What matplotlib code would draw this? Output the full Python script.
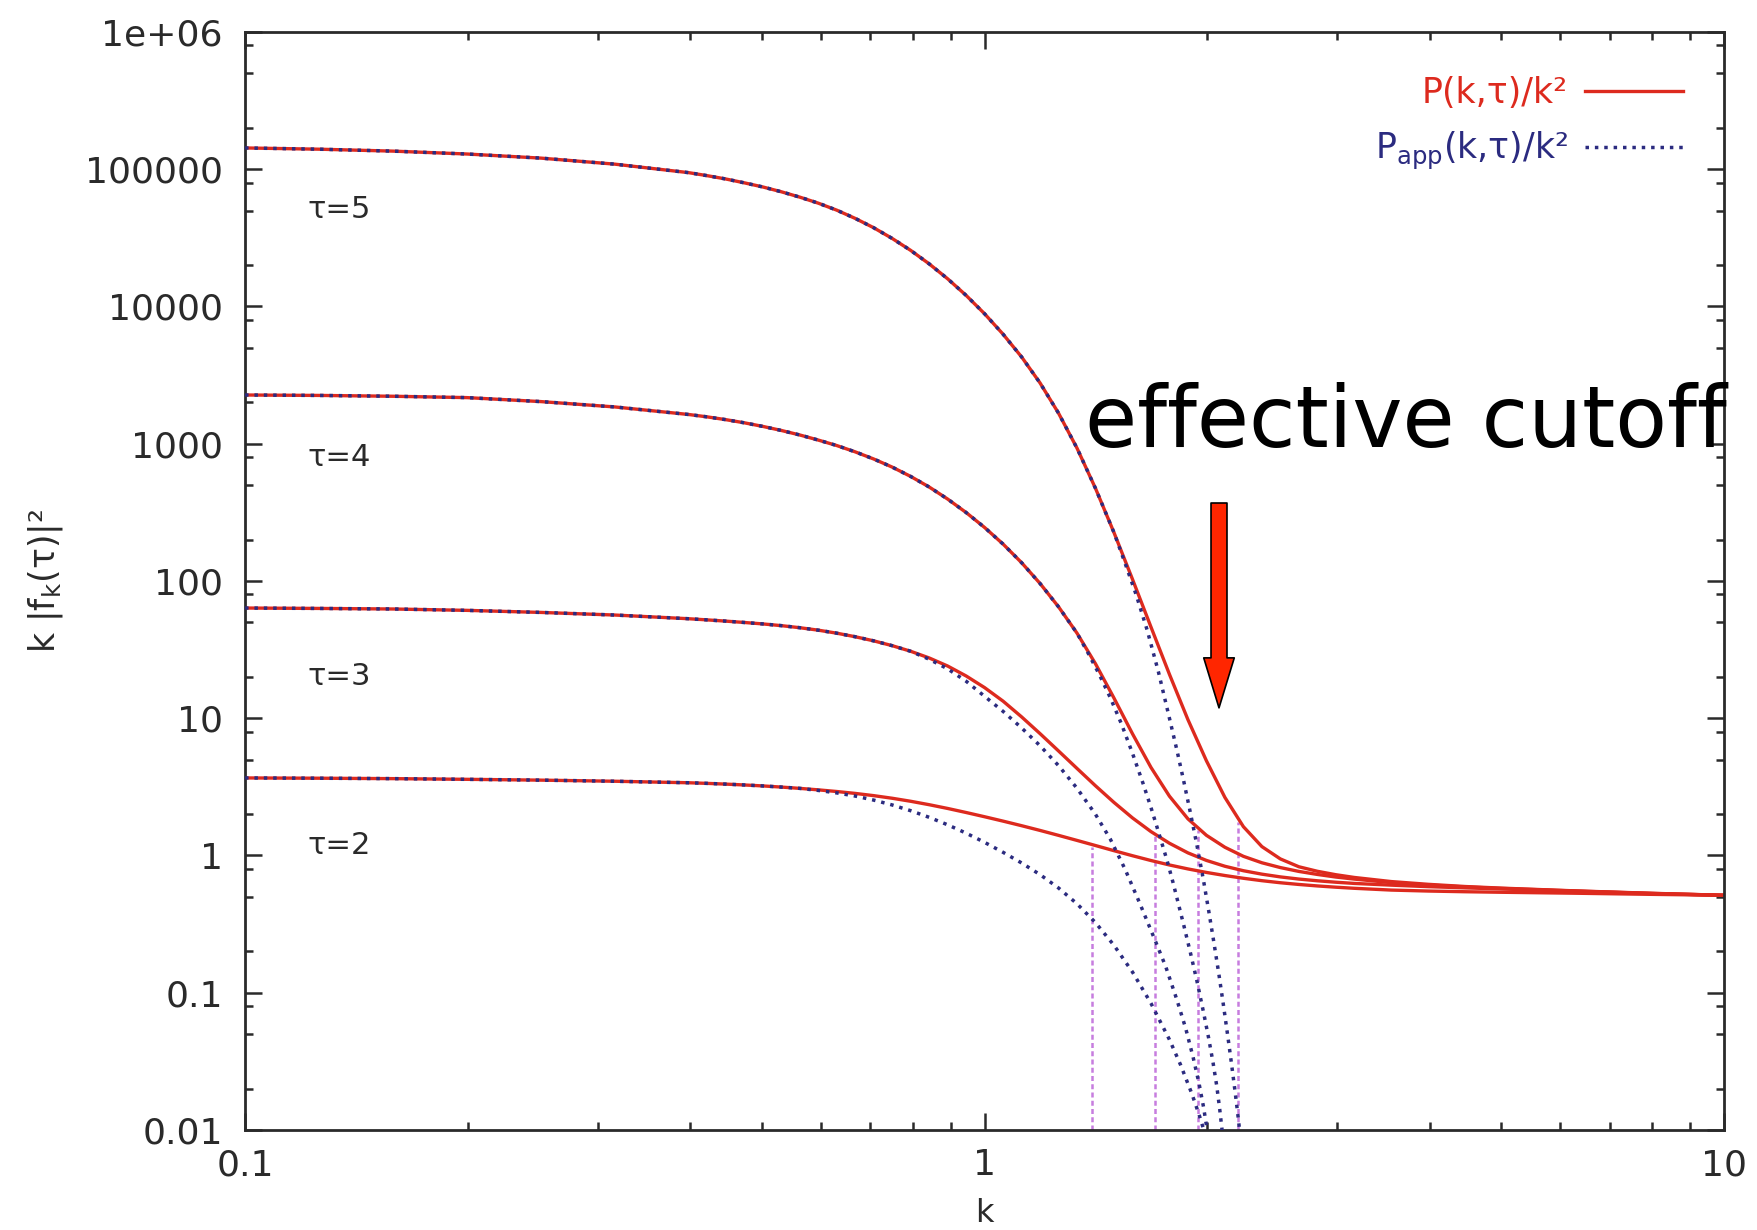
import matplotlib
matplotlib.use("Agg")
import matplotlib.pyplot as plt
from matplotlib.patches import FancyArrowPatch, ArrowStyle
from matplotlib.ticker import LogLocator, NullFormatter

plt.rcParams['font.family'] = ['DejaVu Sans']
plt.rcParams['mathtext.fontset'] = 'dejavusans'

# k values read along the x axis
k_grid = [0.1, 0.1259, 0.1585, 0.1995, 0.2512, 0.3162, 0.3981,
          0.4217, 0.4467, 0.4732, 0.5012, 0.5309, 0.5623, 0.5957, 0.6310, 0.6683, 0.7079,
          0.7499, 0.7943, 0.8414, 0.8913, 0.9441, 1.0, 1.0593, 1.1220, 1.1885, 1.2589,
          1.3335, 1.4125, 1.4962, 1.5849, 1.6788, 1.7783, 1.8836, 1.9953, 2.1135, 2.2387,
          2.3714, 2.5119, 2.6607, 2.8184, 2.9854, 3.1623,
          3.5481, 3.9811, 4.4668, 5.0119, 6.3096, 7.9433, 10.0]

# P(k,tau)/k^2 (solid red)
y_tau5 = [142900, 139960, 135500, 129100, 120500, 108900, 94410,
          89740, 84920, 79620, 74300, 68550, 62660, 56620, 50350, 43850, 37500,
          31330, 25650, 20460, 15920, 12050, 8851, 6281, 4295, 2773, 1671,
          928.9, 473.2, 225.4, 103.0, 46.24, 20.89, 9.772, 4.898, 2.649, 1.622,
          1.161, 0.9441, 0.8279, 0.7674, 0.7244, 0.6918,
          0.6457, 0.6166, 0.5943, 0.5781, 0.5521, 0.5309, 0.5129]
y_tau4 = [2265, 2249, 2218, 2168, 2028, 1854, 1633,
          1569, 1498, 1421, 1338, 1250, 1159, 1064, 970.5, 873.0, 774.5,
          676.1, 578.1, 484.2, 395.4, 315.5, 245.5, 185.8, 136.1, 95.94, 64.86,
          41.69, 24.95, 14.03, 7.709, 4.385, 2.704, 1.849, 1.403, 1.148, 0.9863,
          0.8851, 0.8166, 0.7656, 0.7278, 0.6966, 0.6730,
          0.6339, 0.6095, 0.5902, 0.5754, 0.5508, 0.5297, 0.5129]
y_tau3 = [63.53, 63.10, 62.52, 61.09, 59.02, 56.49, 53.09,
          52.06, 51.00, 49.86, 48.67, 47.29, 45.68, 43.83, 41.67, 39.26, 36.64,
          33.80, 30.77, 27.51, 24.02, 20.33, 16.72, 13.32, 10.24, 7.727, 5.777,
          4.308, 3.220, 2.436, 1.879, 1.493, 1.228, 1.045, 0.9207, 0.8348, 0.7746,
          0.7312, 0.6983, 0.6734, 0.6543, 0.6387, 0.6259,
          0.6081, 0.5929, 0.5808, 0.5702, 0.5483, 0.5284, 0.5129]
y_tau2 = [3.673, 3.656, 3.631, 3.589, 3.540, 3.475, 3.388,
          3.353, 3.312, 3.265, 3.213, 3.152, 3.084, 3.008, 2.926, 2.834, 2.730,
          2.613, 2.484, 2.345, 2.202, 2.057, 1.916, 1.780, 1.649, 1.523, 1.402,
          1.288, 1.182, 1.084, 0.9963, 0.9192, 0.8529, 0.7982, 0.7526, 0.7146, 0.6824,
          0.6554, 0.6331, 0.6152, 0.6001, 0.5875, 0.5768,
          0.5598, 0.5508, 0.5445, 0.5395, 0.5309, 0.5212, 0.5129]

# P_app(k,tau)/k^2 (dotted blue): same as exact at small k, then these tails
k_app5_tail = [1.5488, 1.6032, 1.6596, 1.7179, 1.7783, 1.8197, 1.8578, 1.8967, 1.9364,
               1.9770, 2.0091, 2.0417, 2.0749, 2.1038, 2.1330, 2.1577, 2.1827, 2.2029, 2.2182]
y_app5_tail = [134.9, 79.43, 43.65, 21.88, 10.0, 5.888, 3.548, 2.089, 1.202,
               0.6607, 0.3981, 0.2344, 0.1349, 0.08128, 0.04786, 0.03020, 0.01862, 0.01230, 0.00871]
k_app4_tail = [1.3804, 1.4289, 1.4791, 1.5311, 1.5849, 1.6368, 1.6788, 1.7100, 1.7378, 1.7660,
               1.7989, 1.8281, 1.8578, 1.8967, 1.9364, 1.9770, 2.0091, 2.0370, 2.0606, 2.0797, 2.0989]
y_app4_tail = [29.85, 20.89, 14.13, 9.120, 5.559, 3.388, 2.239, 1.622, 1.216, 0.9120,
               0.6310, 0.4467, 0.3162, 0.1995, 0.1230, 0.07244, 0.04677, 0.03090, 0.02089, 0.01413, 0.00912]
k_app3_tail = [0.8414, 0.8913, 0.9441, 1.0, 1.0593, 1.1220, 1.1885, 1.2589, 1.3335, 1.4125, 1.4791,
               1.5488, 1.6218, 1.6982, 1.7579, 1.8197, 1.8707, 1.9143, 1.9498, 1.9770, 1.9999, 2.0091]
y_app3_tail = [26.92, 22.91, 18.62, 14.45, 11.22, 8.511, 6.310, 4.519, 3.090, 1.995, 1.318,
               0.7943, 0.4467, 0.2455, 0.1549, 0.08913, 0.05495, 0.03388, 0.02188, 0.01479, 0.0100, 0.008511]
k_app2_tail = [0.5957, 0.6310, 0.6683, 0.7079, 0.7499, 0.7943, 0.8414, 0.8913, 0.9441, 1.0, 1.0593,
               1.1220, 1.1885, 1.2589, 1.3335, 1.4125, 1.4962, 1.5849, 1.6788, 1.7783, 1.8408,
               1.9055, 1.9498, 1.9861]
y_app2_tail = [2.980, 2.858, 2.711, 2.534, 2.335, 2.121, 1.898, 1.674, 1.455, 1.247, 1.055,
               0.8828, 0.7259, 0.5799, 0.4449, 0.3243, 0.2217, 0.1416, 0.08382, 0.04552, 0.02987,
               0.01855, 0.01298, 0.009405]

# thin vertical lines under the cutoffs
cut_k = [1.398, 1.701, 1.944, 2.203]
cut_top = [1.15, 1.40, 1.53, 1.75]

tau_names = ["τ=5", "τ=4", "τ=3", "τ=2"]
tau_label_y = [5.05e4, 790, 20.0, 1.19]

xtick_vals = [0.1, 1, 10]
xtick_labels = ["0.1", "1", "10"]
ytick_vals = [0.01, 0.1, 1, 10, 100, 1000, 10000, 100000, 1e6]
ytick_labels = ["0.01", "0.1", "1", "10", "100", "1000", "10000", "100000", "1e+06"]

red = "#dd2a1e"
blue = "#2b2b80"
grey = "#2a2a2a"

fig = plt.figure(figsize=(17.58, 12.30), dpi=100)
ax = fig.add_axes([0.1394, 0.0813, 0.8413, 0.8927])
ax.set_xscale("log")
ax.set_yscale("log")

exact = [y_tau5, y_tau4, y_tau3, y_tau2]
approx = [(k_grid[:30] + k_app5_tail, y_tau5[:30] + y_app5_tail),
          (k_grid[:28] + k_app4_tail, y_tau4[:28] + y_app4_tail),
          (k_grid[:19] + k_app3_tail, y_tau3[:19] + y_app3_tail),
          (k_grid[:13] + k_app2_tail, y_tau2[:13] + y_app2_tail)]

ax.vlines(cut_k, 0.01, cut_top, colors="#c77ddf", linestyles=(0, (2, 1.3)), lw=1.8, zorder=1)

for ys in exact:
    l1, = ax.plot(k_grid, ys, color=red, lw=2.4, zorder=2)
for ks, ys in approx:
    l2, = ax.plot(ks, ys, color=blue, lw=2.5, ls=(0, (1.0, 1.7)), zorder=3)

for name, yv in zip(tau_names, tau_label_y):
    ax.text(0.1213, yv, name, fontsize=22, color=grey, ha="left", va="center")

ax.set_xlim(0.1, 10)
ax.set_ylim(0.01, 1e6)
ax.set_xticks(xtick_vals)
ax.set_xticklabels(xtick_labels)
ax.set_yticks(ytick_vals)
ax.set_yticklabels(ytick_labels)
ax.xaxis.set_minor_locator(LogLocator(base=10, subs=range(2, 10), numticks=20))
ax.yaxis.set_minor_locator(LogLocator(base=10, subs=(2, 5, 8), numticks=20))
ax.xaxis.set_minor_formatter(NullFormatter())
ax.yaxis.set_minor_formatter(NullFormatter())
ax.tick_params(which="both", direction="in", top=True, right=True, color=grey,
               labelcolor=grey, labelsize=26, width=1.8)
ax.tick_params(which="major", length=12)
ax.tick_params(which="minor", length=6)
ax.tick_params(axis="y", pad=16)
ax.tick_params(axis="x", pad=13)
for sp in ax.spines.values():
    sp.set_linewidth(2.0)
    sp.set_color(grey)

ax.set_xlabel("k", fontsize=23, color=grey)
ax.xaxis.set_label_coords(0.5, -0.062)
ax.set_ylabel("k |$\\mathregular{f_k}$(τ)|²", fontsize=25, color=grey)
ax.yaxis.set_label_coords(-0.122, 0.5)

leg = ax.legend([l1, l2], ["P(k,τ)/k²", "$\\mathregular{P_{app}}$(k,τ)/k²"],
                loc="upper right", bbox_to_anchor=(0.972, 0.960), frameon=False,
                markerfirst=False, fontsize=25, handlelength=2.8, handletextpad=0.5,
                labelspacing=0.58, borderaxespad=0, borderpad=0)
for txt, c in zip(leg.get_texts(), [red, blue]):
    txt.set_color(c)

ax.text(1.368, 946, "effective cutoff", fontsize=61, family="DejaVu Sans", color="black",
        ha="left", va="baseline", zorder=10, clip_on=False)

arrow = FancyArrowPatch((2.075, 370), (2.075, 11.9),
                        arrowstyle=ArrowStyle.Simple(head_length=36, head_width=22, tail_width=11.5),
                        mutation_scale=1, shrinkA=0, shrinkB=0,
                        fc="#ff2600", ec="black", lw=1.2, zorder=9)
ax.add_patch(arrow)

fig.savefig("out.png", dpi=100)
